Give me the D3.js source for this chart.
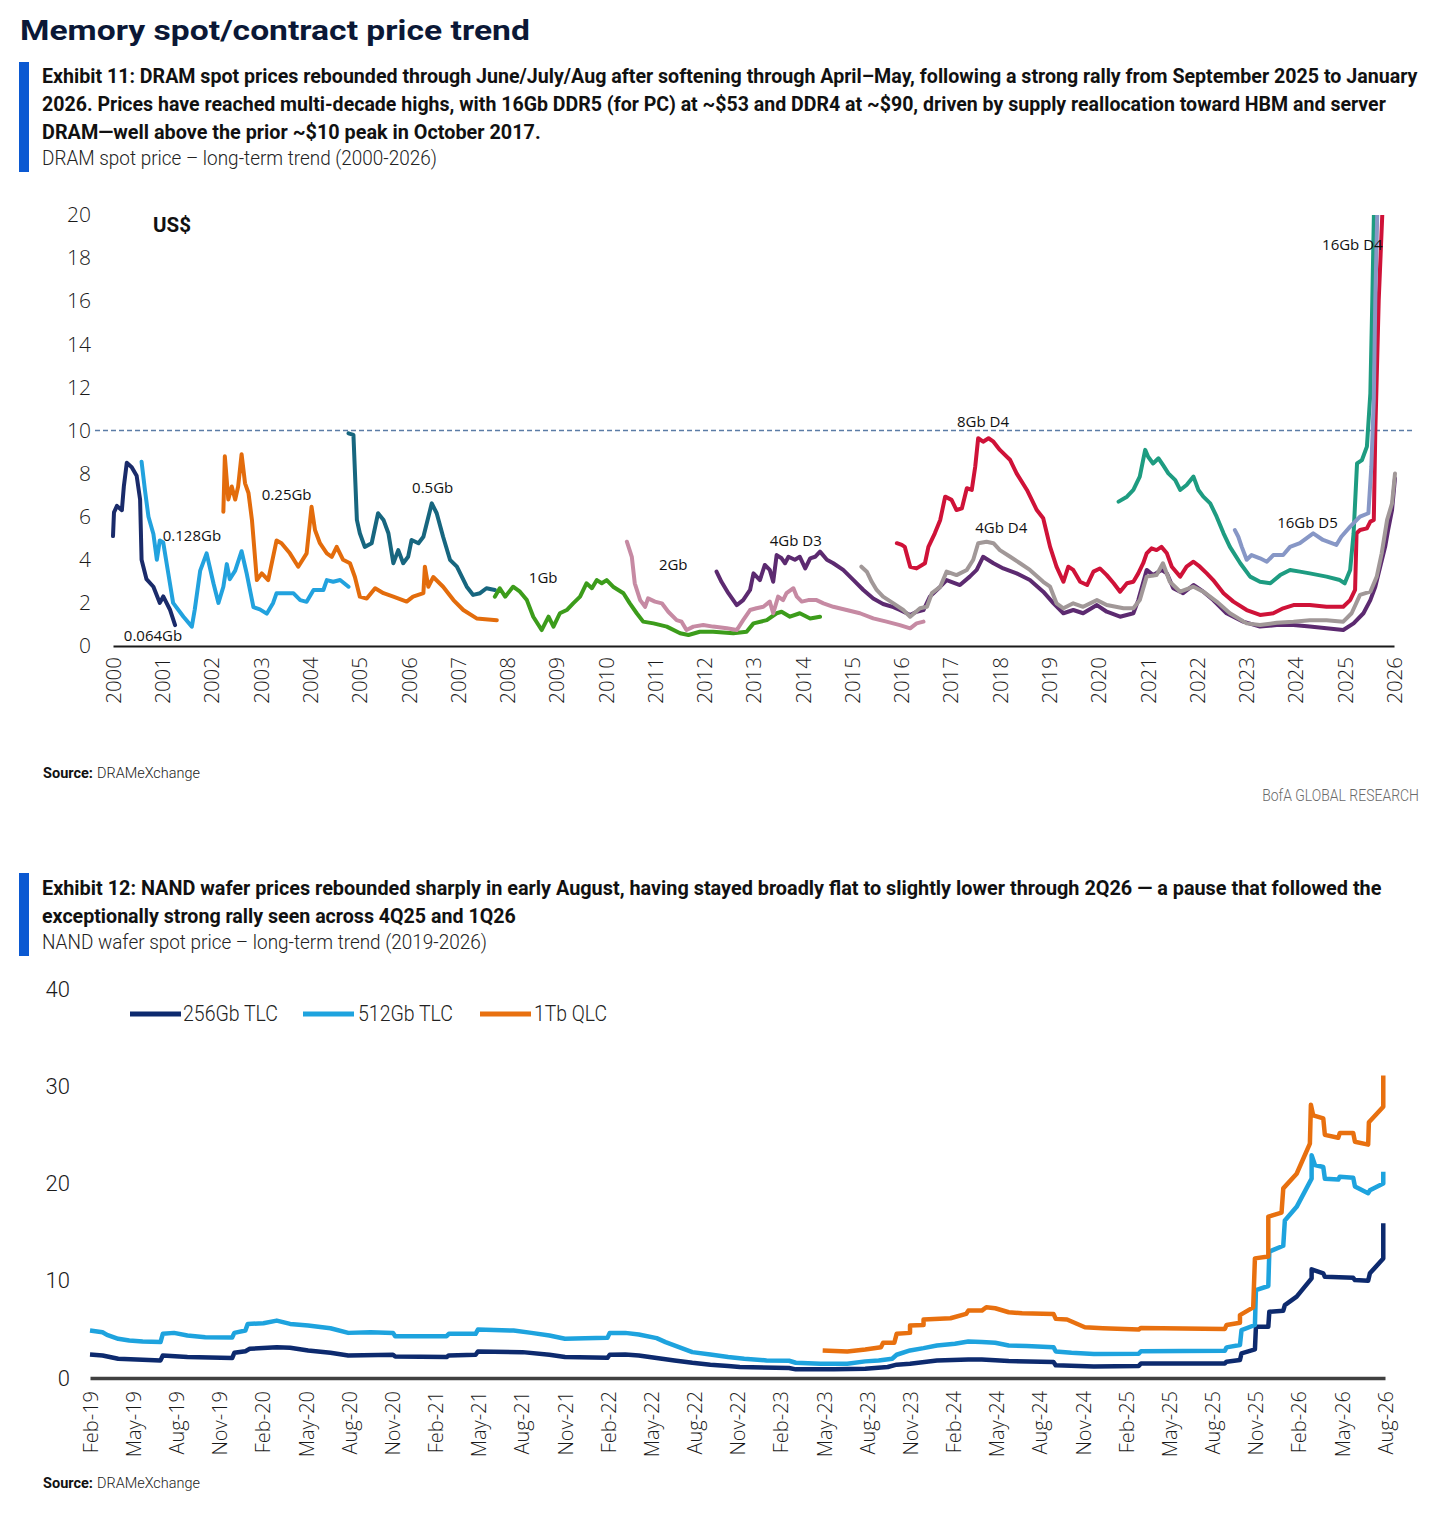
<!DOCTYPE html>
<html><head><meta charset="utf-8">
<script src="https://cdn.jsdelivr.net/npm/d3@7"></script>
<style>
html,body{margin:0;padding:0;background:#fff;}
svg{display:block;}
</style></head><body>
<svg id="c" width="1431" height="1525"></svg>
<script>
// ---------------- DATA: Exhibit 11 (DRAM spot, US$) ----------------
const dramYears = d3.range(2000, 2027);
const dramYTicks = [0,2,4,6,8,10,12,14,16,18,20];
const dramRefLine = 10;
const dramNames = ["0.064Gb","0.128Gb","0.25Gb","0.5Gb","1Gb","2Gb","4Gb D3","4Gb D4","8Gb D4","16Gb D4","16Gb D5"];

const s0064 = [[2000.0,5.1],[2000.02,6.2],[2000.08,6.5],[2000.18,6.3],[2000.22,7.4],[2000.28,8.5],[2000.38,8.3],[2000.48,7.9],[2000.55,6.8],[2000.58,4.0],[2000.68,3.1],[2000.82,2.75],[2000.95,2.0],[2001.02,2.3],[2001.16,1.67],[2001.26,0.97]];
const s0128 = [[2000.58,8.55],[2000.65,7.2],[2000.72,6.0],[2000.82,5.2],[2000.89,4.0],[2000.95,4.9],[2001.02,4.8],[2001.12,3.4],[2001.22,2.0],[2001.43,1.36],[2001.60,0.9],[2001.66,1.7],[2001.77,3.5],[2001.90,4.3],[2002.04,2.9],[2002.14,2.0],[2002.24,2.75],[2002.31,3.8],[2002.37,3.1],[2002.48,3.5],[2002.61,4.4],[2002.71,3.4],[2002.85,1.8],[2002.98,1.7],[2003.12,1.5],[2003.25,2.0],[2003.32,2.45],[2003.66,2.45],[2003.80,2.13],[2003.93,2.05],[2004.07,2.6],[2004.27,2.6],[2004.34,3.06],[2004.47,2.98],[2004.61,3.06],[2004.78,2.75]];
const s025 = [[2002.24,6.23],[2002.27,8.8],[2002.34,6.8],[2002.41,7.4],[2002.48,6.8],[2002.54,7.4],[2002.61,8.9],[2002.68,7.55],[2002.75,7.1],[2002.82,5.85],[2002.92,3.06],[2003.02,3.37],[2003.15,3.06],[2003.32,4.9],[2003.42,4.77],[2003.59,4.3],[2003.76,3.68],[2003.93,4.3],[2004.03,6.46],[2004.10,5.38],[2004.20,4.77],[2004.34,4.3],[2004.44,4.14],[2004.54,4.6],[2004.67,4.0],[2004.81,3.84],[2004.91,3.2],[2005.01,2.29],[2005.15,2.2],[2005.32,2.68],[2005.49,2.45],[2005.69,2.29],[2005.96,2.06],[2006.09,2.29],[2006.30,2.45],[2006.33,3.68],[2006.40,2.75],[2006.50,3.2],[2006.70,2.75],[2006.91,2.13],[2007.11,1.67],[2007.38,1.28],[2007.79,1.2]];
const s05 = [[2004.78,9.87],[2004.88,9.8],[2004.95,5.85],[2005.01,5.23],[2005.11,4.6],[2005.25,4.77],[2005.38,6.16],[2005.49,5.85],[2005.59,5.23],[2005.69,3.84],[2005.79,4.45],[2005.89,3.84],[2005.99,4.14],[2006.06,4.92],[2006.20,4.77],[2006.30,5.07],[2006.47,6.62],[2006.57,6.16],[2006.70,5.07],[2006.84,4.0],[2006.98,3.68],[2007.18,2.75],[2007.31,2.37],[2007.45,2.45],[2007.58,2.68],[2007.75,2.6]];
const s1Gb = [[2007.75,2.29],[2007.85,2.68],[2007.96,2.29],[2008.12,2.75],[2008.26,2.52],[2008.40,2.13],[2008.53,1.36],[2008.70,0.74],[2008.84,1.36],[2008.94,0.9],[2009.07,1.52],[2009.21,1.67],[2009.34,1.98],[2009.48,2.29],[2009.61,2.91],[2009.72,2.68],[2009.82,3.06],[2009.92,2.91],[2010.02,3.06],[2010.15,2.75],[2010.36,2.45],[2010.49,1.98],[2010.63,1.52],[2010.76,1.13],[2010.97,1.05],[2011.24,0.9],[2011.51,0.59],[2011.68,0.51],[2011.91,0.66],[2012.18,0.66],[2012.59,0.59],[2012.86,0.66],[2013.00,1.05],[2013.27,1.2],[2013.47,1.52],[2013.57,1.59],[2013.74,1.36],[2013.94,1.52],[2014.15,1.28],[2014.35,1.36]];
const s2Gb = [[2010.43,4.84],[2010.53,4.14],[2010.59,2.91],[2010.70,2.13],[2010.80,1.82],[2010.86,2.21],[2011.00,2.06],[2011.14,1.98],[2011.27,1.59],[2011.44,1.2],[2011.54,1.13],[2011.64,0.74],[2011.78,0.9],[2011.98,0.97],[2012.18,0.9],[2012.46,0.82],[2012.66,0.74],[2012.79,1.2],[2012.93,1.67],[2013.06,1.75],[2013.20,1.82],[2013.33,2.06],[2013.40,1.52],[2013.50,2.29],[2013.60,2.13],[2013.67,2.45],[2013.81,2.68],[2013.88,2.29],[2013.98,2.06],[2014.11,2.13],[2014.28,2.13],[2014.42,1.98],[2014.62,1.82],[2014.89,1.67],[2015.16,1.52],[2015.43,1.28],[2015.70,1.13],[2015.97,0.97],[2016.18,0.82],[2016.31,1.05],[2016.45,1.13]];
const s4GbD3 = [[2012.25,3.45],[2012.35,2.98],[2012.49,2.45],[2012.66,1.9],[2012.79,2.13],[2012.93,2.6],[2013.00,3.37],[2013.13,3.06],[2013.23,3.76],[2013.33,3.53],[2013.40,2.98],[2013.47,4.22],[2013.57,4.07],[2013.64,3.84],[2013.71,4.14],[2013.84,4.0],[2013.94,4.14],[2014.05,3.6],[2014.15,4.07],[2014.25,4.14],[2014.35,4.38],[2014.49,4.0],[2014.62,3.84],[2014.82,3.53],[2015.03,3.06],[2015.23,2.6],[2015.43,2.2],[2015.63,1.95],[2015.84,1.8],[2015.97,1.67],[2016.18,1.44],[2016.31,1.59],[2016.45,1.67],[2016.58,2.29],[2016.79,2.75],[2016.92,3.06],[2017.19,2.83],[2017.39,3.22],[2017.53,3.53],[2017.66,4.14],[2017.87,3.84],[2018.07,3.6],[2018.34,3.37],[2018.61,3.06],[2018.88,2.52],[2019.09,1.98],[2019.29,1.52],[2019.49,1.67],[2019.69,1.52],[2019.97,1.9],[2020.17,1.59],[2020.44,1.36],[2020.71,1.52],[2020.81,2.13],[2020.98,3.53],[2021.11,3.29],[2021.28,3.53],[2021.39,3.37],[2021.52,2.68],[2021.72,2.45],[2021.93,2.83],[2022.13,2.52],[2022.33,2.13],[2022.60,1.52],[2022.94,1.13],[2023.28,0.9],[2023.62,0.97],[2023.96,0.97],[2024.29,0.9],[2024.63,0.82],[2024.97,0.74],[2025.18,1.05],[2025.38,1.52],[2025.52,2.13],[2025.62,2.75],[2025.72,3.68],[2025.82,4.6],[2025.88,5.38],[2025.96,6.31],[2026.02,7.78]];
const s4GbD4 = [[2015.19,3.68],[2015.30,3.45],[2015.40,2.98],[2015.50,2.6],[2015.63,2.29],[2015.84,1.98],[2016.04,1.67],[2016.18,1.36],[2016.38,1.75],[2016.52,1.82],[2016.62,2.45],[2016.79,2.75],[2016.92,3.45],[2017.12,3.29],[2017.33,3.53],[2017.46,4.0],[2017.56,4.77],[2017.73,4.84],[2017.87,4.77],[2018.00,4.45],[2018.21,4.14],[2018.41,3.84],[2018.61,3.53],[2018.88,2.98],[2019.02,2.75],[2019.15,1.98],[2019.29,1.75],[2019.49,1.98],[2019.69,1.82],[2019.97,2.13],[2020.17,1.9],[2020.51,1.75],[2020.71,1.75],[2020.84,2.13],[2020.98,3.22],[2021.18,3.29],[2021.31,3.84],[2021.45,2.98],[2021.66,2.52],[2021.93,2.75],[2022.13,2.52],[2022.40,2.06],[2022.67,1.52],[2023.01,1.05],[2023.28,0.97],[2023.62,1.08],[2023.96,1.13],[2024.29,1.2],[2024.63,1.2],[2024.97,1.13],[2025.14,1.52],[2025.31,2.37],[2025.52,2.52],[2025.65,3.22],[2025.75,4.3],[2025.86,5.85],[2025.96,6.62],[2026.02,8.0]];
const s8GbD4 = [[2015.91,4.77],[2016.01,4.69],[2016.07,4.6],[2016.18,3.68],[2016.31,3.6],[2016.48,3.84],[2016.55,4.6],[2016.68,5.23],[2016.79,5.85],[2016.89,6.93],[2017.02,6.78],[2017.12,6.31],[2017.23,6.39],[2017.33,7.32],[2017.43,7.24],[2017.50,8.32],[2017.56,9.64],[2017.66,9.48],[2017.77,9.64],[2017.87,9.48],[2018.00,9.1],[2018.21,8.63],[2018.34,8.01],[2018.55,7.24],[2018.75,6.31],[2018.88,5.93],[2019.02,4.6],[2019.15,3.68],[2019.29,2.98],[2019.39,3.68],[2019.49,3.53],[2019.63,2.98],[2019.77,2.83],[2019.90,3.45],[2020.03,3.6],[2020.17,3.29],[2020.31,2.91],[2020.44,2.52],[2020.58,2.91],[2020.71,2.98],[2020.81,3.37],[2020.91,3.84],[2020.98,4.3],[2021.08,4.53],[2021.18,4.45],[2021.28,4.6],[2021.39,4.3],[2021.49,3.68],[2021.66,3.22],[2021.79,3.68],[2021.93,3.91],[2022.06,3.68],[2022.20,3.37],[2022.33,3.06],[2022.54,2.45],[2022.74,2.06],[2023.01,1.67],[2023.28,1.44],[2023.55,1.52],[2023.75,1.75],[2023.96,1.9],[2024.29,1.9],[2024.63,1.82],[2024.97,1.82],[2025.11,2.13],[2025.21,2.6],[2025.24,5.23],[2025.31,5.38],[2025.45,5.46],[2025.52,5.77],[2025.59,5.85],[2025.62,9.87],[2025.69,16.06],[2025.78,21]];
const s16GbD4 = [[2020.41,6.7],[2020.58,6.93],[2020.71,7.24],[2020.84,7.86],[2020.95,9.1],[2021.01,8.78],[2021.11,8.47],[2021.22,8.71],[2021.31,8.4],[2021.42,8.01],[2021.56,7.7],[2021.66,7.24],[2021.79,7.47],[2021.93,7.86],[2022.03,7.24],[2022.13,6.93],[2022.27,6.62],[2022.40,6.0],[2022.54,5.23],[2022.67,4.6],[2022.88,3.84],[2023.08,3.22],[2023.28,2.98],[2023.49,2.91],[2023.69,3.29],[2023.89,3.53],[2024.09,3.45],[2024.29,3.37],[2024.63,3.22],[2024.90,3.06],[2025.00,2.91],[2025.11,3.53],[2025.18,5.23],[2025.25,8.47],[2025.35,8.63],[2025.45,9.25],[2025.52,11.72],[2025.56,16.06],[2025.60,21]];
const s16GbD5 = [[2022.77,5.38],[2022.84,5.07],[2022.91,4.6],[2023.01,4.0],[2023.11,4.22],[2023.28,4.07],[2023.42,3.91],[2023.55,4.22],[2023.75,4.22],[2023.89,4.6],[2024.09,4.77],[2024.36,5.23],[2024.56,4.92],[2024.83,4.69],[2024.93,5.07],[2025.11,5.54],[2025.31,6.0],[2025.48,6.16],[2025.54,8.32],[2025.59,11.42],[2025.62,16.06],[2025.67,21]];

// ---------------- DATA: Exhibit 12 (NAND wafer spot, US$) ----------------
// x = months since Feb-2019
const nandTickLabels = ["Feb-19","May-19","Aug-19","Nov-19","Feb-20","May-20","Aug-20","Nov-20","Feb-21","May-21","Aug-21","Nov-21","Feb-22","May-22","Aug-22","Nov-22","Feb-23","May-23","Aug-23","Nov-23","Feb-24","May-24","Aug-24","Nov-24","Feb-25","May-25","Aug-25","Nov-25","Feb-26","May-26","Aug-26"];
const nandYTicks = [0,10,20,30,40];
const nandNames = ["256Gb TLC","512Gb TLC","1Tb QLC"];
const nand256 = [[0,2.42],[0.87,2.32],[1.96,1.98],[3.66,1.88],[4.9,1.81],[5.06,2.32],[6.77,2.15],[9.88,2.05],[10.03,2.59],[10.8,2.76],[11.1,3.0],[12.98,3.17],[13.91,3.11],[15.16,2.83],[16.71,2.59],[17.95,2.32],[21.06,2.39],[21.21,2.22],[24.78,2.15],[24.94,2.32],[26.8,2.39],[26.96,2.73],[30.06,2.66],[31.93,2.39],[33.01,2.15],[35.96,2.08],[36.12,2.39],[37.2,2.42],[38.14,2.32],[39.38,2.05],[40.62,1.81],[41.86,1.57],[43.11,1.37],[44.35,1.23],[45.16,1.13],[48.58,1.02],[49.05,0.89],[51.7,0.89],[53.88,0.96],[55.44,1.13],[56.06,1.37],[56.99,1.47],[58.86,1.81],[61.04,1.91],[61.98,1.91],[63.85,1.74],[66.96,1.64],[67.12,1.3],[69.77,1.19],[72.88,1.23],[73.04,1.5],[78.87,1.5],[78.99,1.68],[79.92,1.85],[80.03,2.54],[80.96,2.95],[81.03,5.27],[81.89,5.27],[81.96,6.81],[82.93,6.92],[83.04,7.5],[83.86,8.36],[84.9,10.25],[84.9,11.17],[85.71,10.76],[85.82,10.4],[87.79,10.3],[87.91,10.07],[88.83,10.0],[88.95,10.76],[89.88,12.3],[89.88,15.9]];
const nand512 = [[0,4.88],[0.87,4.71],[1.18,4.44],[1.96,4.03],[2.73,3.86],[3.66,3.75],[4.9,3.69],[5.06,4.54],[5.84,4.64],[6.77,4.37],[8.01,4.2],[9.88,4.16],[10.03,4.64],[10.8,4.88],[10.96,5.56],[12.05,5.63],[12.98,5.9],[13.91,5.56],[15.16,5.39],[16.71,5.12],[17.95,4.64],[19.5,4.71],[21.06,4.64],[21.21,4.3],[24.78,4.3],[24.94,4.54],[26.8,4.54],[26.96,4.98],[29.44,4.88],[30.68,4.64],[31.93,4.37],[33.01,4.03],[34.41,4.1],[35.96,4.13],[36.12,4.64],[37.2,4.64],[38.14,4.47],[39.38,4.1],[40.0,3.69],[40.93,3.17],[41.86,2.66],[43.11,2.42],[44.35,2.15],[45.47,1.98],[47.02,1.81],[48.58,1.77],[49.05,1.57],[50.76,1.47],[52.63,1.47],[53.88,1.71],[54.81,1.81],[55.75,1.98],[56.06,2.39],[56.99,2.83],[57.93,3.07],[58.86,3.34],[60.11,3.52],[61.04,3.75],[61.98,3.69],[62.91,3.62],[63.85,3.34],[65.09,3.28],[66.96,3.17],[67.12,2.73],[68.21,2.59],[69.77,2.46],[72.88,2.49],[73.04,2.75],[78.87,2.8],[78.99,3.15],[79.92,3.39],[80.03,4.93],[80.96,5.45],[81.03,9.04],[81.89,9.46],[81.96,13.0],[82.93,13.6],[83.04,16.2],[83.86,17.6],[84.9,20.5],[84.9,22.9],[85.13,21.9],[85.71,21.7],[85.82,20.5],[86.75,20.4],[86.86,20.7],[87.79,20.6],[87.91,19.7],[88.83,19.0],[88.95,19.3],[89.88,20.0],[89.88,21.2]];
const nand1Tb = [[50.92,2.83],[52.63,2.73],[53.88,2.94],[54.97,3.17],[55.12,3.62],[55.9,3.62],[56.06,4.54],[56.99,4.64],[56.99,5.39],[57.93,5.46],[57.93,6.01],[59.8,6.14],[60.89,6.59],[61.04,6.93],[61.98,6.93],[62.29,7.27],[62.91,7.17],[63.85,6.76],[64.78,6.66],[66.96,6.59],[67.12,6.08],[67.9,6.01],[69.14,5.22],[70.39,5.12],[72.88,4.98],[73.04,5.15],[78.87,5.05],[78.99,5.45],[79.92,5.69],[79.92,6.47],[80.84,7.26],[80.96,12.3],[81.89,12.5],[81.89,16.6],[82.81,17.0],[82.93,19.5],[83.86,21.0],[84.78,24.1],[84.85,28.1],[85.01,27.0],[85.71,26.7],[85.82,25.0],[86.75,24.7],[86.86,25.2],[87.79,25.2],[87.91,24.3],[88.83,24.0],[88.88,26.3],[89.88,27.9],[89.88,31.1]];

// ---------------- RENDER ----------------
const svg = d3.select("#c");
svg.append("rect").attr("width",1431).attr("height",1525).attr("fill","#fff");
const FT = "Roboto, 'Open Sans', sans-serif";
const FL = "'Open Sans', 'Noto Sans', sans-serif";

// text fitted to a target width by a horizontal scale transform
function addText(x, y, str, o) {
  const t = svg.append("text").attr("x", 0).attr("y", 0).text(str)
    .attr("font-family", o.font || FT).attr("font-size", o.size)
    .attr("font-weight", o.weight || 400).attr("fill", o.fill || "#111");
  if (o.anchor) t.attr("text-anchor", o.anchor);
  let s = 1;
  if (o.len) {
    const w = t.node().getComputedTextLength();
    if (w > 0) s = o.len / w;
  }
  t.attr("transform", `translate(${x},${y}) scale(${s},1)`);
  return t;
}

// Headings
addText(20, 40, "Memory spot/contract price trend", {size:28, weight:700, fill:"#0b1836", len:510});
svg.append("rect").attr("x",19).attr("y",62).attr("width",10).attr("height",110).attr("fill","#0b59d2");
addText(42, 83, "Exhibit 11: DRAM spot prices rebounded through June/July/Aug after softening through April\u2013May, following a strong rally from September 2025 to January", {size:21, weight:700, len:1376});
addText(42, 111, "2026. Prices have reached multi-decade highs, with 16Gb DDR5 (for PC) at ~$53 and DDR4 at ~$90, driven by supply reallocation toward HBM and server", {size:21, weight:700, len:1345});
addText(42, 139, "DRAM\u2014well above the prior ~$10 peak in October 2017.", {size:21, weight:700, len:499});
addText(42, 165, "DRAM spot price \u2013 long-term trend (2000-2026)", {size:20, weight:300, fill:"#222", len:395});

addText(43, 778, "Source:", {size:15, weight:700, len:50});
addText(97, 778, "DRAMeXchange", {size:15, weight:300, fill:"#222", len:103});
addText(1419, 801, "BofA GLOBAL RESEARCH", {size:16, weight:300, fill:"#6a6a6a", anchor:"end", len:157});

svg.append("rect").attr("x",19).attr("y",873).attr("width",10).attr("height",83).attr("fill","#0b59d2");
addText(42, 895, "Exhibit 12: NAND wafer prices rebounded sharply in early August, having stayed broadly flat to slightly lower through 2Q26 \u2014 a pause that followed the", {size:21, weight:700, len:1340});
addText(42, 923, "exceptionally strong rally seen across 4Q25 and 1Q26", {size:21, weight:700, len:474});
addText(42, 949, "NAND wafer spot price \u2013 long-term trend (2019-2026)", {size:20, weight:300, fill:"#222", len:445});

addText(43, 1488, "Source:", {size:15, weight:700, len:50});
addText(97, 1488, "DRAMeXchange", {size:15, weight:300, fill:"#222", len:103});

// ---------- Exhibit 11 chart ----------
const x1 = d3.scaleLinear().domain([2000, 2026]).range([113, 1394]);
const y1 = d3.scaleLinear().domain([0, 20]).range([646, 215]);

svg.append("defs").append("clipPath").attr("id","clip1")
  .append("rect").attr("x",100).attr("y",y1(20)).attr("width",1320).attr("height",y1(0)-y1(20)+10);

const yAx1 = svg.append("g").attr("transform","translate(91,0)")
  .call(d3.axisLeft(y1).tickValues(dramYTicks).tickSize(0).tickPadding(0).tickFormat(d3.format("d")));
yAx1.select(".domain").remove();
yAx1.selectAll("text").attr("font-family", FL).attr("font-size", 21).attr("font-weight",300).attr("fill","#1a1a1a");

addText(153, 232, "US$", {size:20, weight:700, fill:"#111", len:38});

// reference dashed line at $10
svg.append("line").attr("x1",95).attr("x2",1413).attr("y1",y1(dramRefLine)).attr("y2",y1(dramRefLine))
  .attr("stroke","#5b7ca6").attr("stroke-width",1.4).attr("stroke-dasharray","5,3");

const dramData = [s0064, s0128, s025, s05, s1Gb, s2Gb, s4GbD3, s4GbD4, s8GbD4, s16GbD4, s16GbD5];
const dramColors = ["#1a2b6a","#22a2de","#e36c0c","#17667f","#3c9c1b","#c68aa3","#5c2a70","#a19898","#cf1238","#1e9c81","#8797c6"];
const line1 = d3.line().x(d => x1(d[0])).y(d => y1(d[1]));
const g1 = svg.append("g").attr("clip-path","url(#clip1)");
dramData.forEach((ser, i) => {
  g1.append("path").datum(ser).attr("d", line1).attr("fill","none")
    .attr("stroke", dramColors[i]).attr("stroke-width", 4)
    .attr("stroke-linejoin","round").attr("stroke-linecap","round");
});

// x axis
const xAx1 = svg.append("g").attr("transform", `translate(0,${y1(0)})`)
  .call(d3.axisBottom(x1).tickValues(dramYears).tickFormat(d3.format("d")).tickSize(0).tickSizeOuter(0));
xAx1.select(".domain").attr("stroke","#1a1a1a").attr("stroke-width",2.2);
xAx1.selectAll("text").attr("transform","rotate(-90)").attr("text-anchor","end")
  .attr("x",-11).attr("y",0).attr("dy","0.36em")
  .attr("font-family", FL).attr("font-size", 20.5).attr("font-weight",300).attr("fill","#1a1a1a");

// series labels (anchored in data space)
const dramLabelAt = [
  ["0.064Gb",2000.22,0.46],["0.128Gb",2001.01,5.1],["0.25Gb",2003.02,7.0],["0.5Gb",2006.07,7.33],
  ["1Gb",2008.44,3.16],["2Gb",2011.08,3.76],["4Gb D3",2013.33,4.87],["8Gb D4",2017.13,10.39],
  ["4Gb D4",2017.50,5.48],["16Gb D5",2023.63,5.71],["16Gb D4",2024.54,18.61]
];
dramLabelAt.forEach(([t, xv, yv]) => {
  svg.append("text").attr("x", x1(xv)).attr("y", y1(yv)).attr("dy","0.35em").text(t)
    .attr("font-family", FL).attr("font-size", 15).attr("fill","#111");
});

// ---------- Exhibit 12 chart ----------
const x2 = d3.scaleLinear().domain([0, 90]).range([90, 1385]);
const y2 = d3.scaleLinear().domain([0, 40]).range([1378, 989]);

const yAx2 = svg.append("g").attr("transform","translate(70,0)")
  .call(d3.axisLeft(y2).tickValues(nandYTicks).tickSize(0).tickPadding(0).tickFormat(d3.format("d")));
yAx2.select(".domain").remove();
yAx2.selectAll("text").attr("font-family", FT).attr("font-size", 22).attr("font-weight",300).attr("fill","#1a1a1a");

const nandData = [nand256, nand512, nand1Tb];
const nandColors = ["#0d2a6e","#1ea3de","#e8700f"];
const line2 = d3.line().x(d => x2(d[0])).y(d => y2(d[1]));

const xAx2 = svg.append("g").attr("transform", `translate(0,${y2(0)})`)
  .call(d3.axisBottom(x2).tickValues(d3.range(0, 91, 3)).tickFormat((d, i) => nandTickLabels[i]).tickSize(0).tickSizeOuter(0));
xAx2.select(".domain").attr("stroke","#404040").attr("stroke-width",3.5);
xAx2.selectAll("text").attr("transform","rotate(-90)").attr("text-anchor","end")
  .attr("x",-13).attr("y",0).attr("dy","0.36em")
  .attr("font-family", FL).attr("font-size", 20).attr("font-weight",300).attr("fill","#1a1a1a");

nandData.forEach((ser, i) => {
  svg.append("path").datum(ser).attr("d", line2).attr("fill","none")
    .attr("stroke", nandColors[i]).attr("stroke-width", 4.5)
    .attr("stroke-linejoin","round").attr("stroke-linecap","butt");
});

// legend
const legX = [[130,183,95],[303,358,95],[480,534,73]];
nandNames.forEach((n, i) => {
  svg.append("line").attr("x1", legX[i][0]).attr("x2", legX[i][0] + 51).attr("y1",1014).attr("y2",1014)
    .attr("stroke", nandColors[i]).attr("stroke-width", 5);
  addText(legX[i][1], 1021, n, {size:22, weight:300, fill:"#222", len:legX[i][2]});
});
</script></body></html>
